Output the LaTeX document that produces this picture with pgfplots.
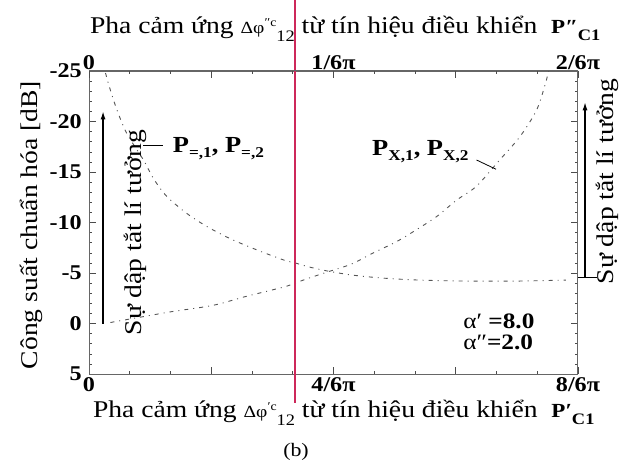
\documentclass[border=0pt]{standalone}
\usepackage{fontspec}
\setmainfont{Liberation Serif}[FakeStretch=1.15]
\usepackage{pgfplots}
\pgfplotsset{compat=1.18}
\usetikzlibrary{arrows.meta}
\definecolor{redline}{RGB}{205,40,90}
\definecolor{curvecol}{RGB}{85,85,85}
\begin{document}
\begin{tikzpicture}
\useasboundingbox (0,0) rectangle (621pt,475pt);
\begin{axis}[
  at={(89pt,101pt)}, anchor=south west,
  width=489pt, height=303pt, scale only axis,
  xmin=0, xmax=8, ymin=-25, ymax=5, y dir=reverse,
  xtick={0,2,4,6,8}, xticklabels={0,,4/6π,,8/6π},
  minor x tick num=2,
  ytick={-25,-20,-15,-10,-5,0,5}, yticklabels={-25,-20,-15,-10,-5,0,5},
  minor y tick num=4,
  xtick pos=left, ytick pos=both, yticklabel pos=left,
  tick align=inside,
  major tick length=7pt, minor tick length=3pt,
  axis line style={black!60, line width=1pt},
  every tick/.style={black!70, line width=0.6pt},
  tick label style={font=\fontsize{21}{21}\selectfont\bfseries},
  xticklabel style={inner sep=1pt, yshift=-2pt},
  yticklabel style={inner sep=1pt, xshift=-6pt},
  clip=false,
  every axis x label/.style={at={(axis description cs:0.521,-0.145)}, anchor=base},
  every axis y label/.style={at={(axis description cs:-0.1063,0.492)}, rotate=90, anchor=base},
  xlabel={\fontsize{24}{24}\selectfont Pha cảm ứng {\fontsize{17}{17}\selectfont Δφ}\raisebox{7pt}{\fontsize{12}{12}\selectfont ′c}\raisebox{-8pt}{\fontsize{16}{16}\selectfont 12} từ tín hiệu điều khiển\ \ \textbf{\fontsize{20}{20}\selectfont P′}\raisebox{-7pt}{\fontsize{16}{16}\selectfont\bfseries C1}},
  ylabel={\fontsize{24}{24}\selectfont Công suất chuẩn hóa [dB]},
]
% P=,1 and P=,2
\addplot[curvecol, line width=0.9pt, dash pattern=on 4pt off 5pt on 1pt off 5pt, smooth] coordinates {
(0.27,-24.8) (0.34,-23.3) (0.46,-21.1) (0.62,-18.8) (0.89,-16.2) (1.05,-14.4) (1.27,-12.6) (1.60,-10.9) (1.93,-9.6) (2.31,-8.4) (2.74,-7.3) (3.18,-6.3) (3.37,-6.0) (3.6,-5.6) (3.9,-5.2) (4.3,-4.8) (4.8,-4.5) (5.4,-4.3) (6.2,-4.2) (7.0,-4.2) (7.8,-4.3)
};
% PX,1 and PX,2
\addplot[curvecol, line width=0.9pt, dash pattern=on 4pt off 5pt on 1pt off 5pt, smooth] coordinates {
(0.35,-0.1) (1.0,-0.8) (1.38,-1.2) (2.03,-1.8) (2.58,-2.7) (3.18,-3.6) (3.37,-4.0) (3.6,-4.5) (3.9,-5.1) (4.3,-5.9) (4.62,-6.9) (5.03,-8.1) (5.36,-9.3) (5.69,-10.6) (6.01,-12.2) (6.34,-13.6) (6.72,-16.2) (7.05,-18.5) (7.32,-21.1) (7.46,-23.6) (7.52,-25)
};
% red vertical line
\draw[redline, line width=1.2pt] (axis cs:3.37,-32.0) -- (axis cs:3.37,7.87);
% left arrow
\draw[-{Latex[length=8pt,width=5pt]}, line width=1.2pt] (axis cs:0.23,0) -- (axis cs:0.23,-21);
\node[rotate=90, anchor=base, font=\fontsize{24}{24}\selectfont] at (axis cs:0.851,-9.01) {Sự dập tắt lí tưởng};
% right arrow
\draw[line width=1pt] (axis cs:8,-4.6) -- (axis cs:8.31,-4.6);
\draw[-{Latex[length=8pt,width=5pt]}, line width=1.2pt] (axis cs:8.115,-4.6) -- (axis cs:8.115,-21.9);
\node[rotate=90, anchor=base, font=\fontsize{24}{24}\selectfont] at (axis cs:8.589,-14.06) {Sự dập tắt lí tưởng};
% labels
\draw[line width=0.8pt] (axis cs:0.88,-17.67) -- (axis cs:1.21,-17.67);
\node[anchor=base west, inner sep=0pt, font=\fontsize{23}{23}\selectfont\bfseries] at (axis cs:1.37,-16.98)
  {P\raisebox{-5pt}{\fontsize{15}{15}\selectfont =,1}, P\raisebox{-5pt}{\fontsize{15}{15}\selectfont =,2}};
\draw[line width=0.8pt] (axis cs:6.34,-16.19) -- (axis cs:6.66,-15.27);
\node[anchor=base west, inner sep=0pt, font=\fontsize{23}{23}\selectfont\bfseries] at (axis cs:4.63,-16.68)
  {P\raisebox{-5pt}{\fontsize{15}{15}\selectfont X,1}, P\raisebox{-5pt}{\fontsize{15}{15}\selectfont X,2}};
\node[anchor=base west, inner sep=0pt, font=\fontsize{22}{22}\selectfont] at (axis cs:6.12,0.45) {α′ \textbf{=8.0}};
\node[anchor=base west, inner sep=0pt, font=\fontsize{22}{22}\selectfont] at (axis cs:6.12,2.62) {α″\textbf{=2.0}};
\node[font=\fontsize{19}{19}\selectfont] at (axis cs:3.387,12.72) {(b)};
\end{axis}
\begin{axis}[
  at={(89pt,101pt)}, anchor=south west,
  width=489pt, height=303pt, scale only axis,
  xmin=0, xmax=2, ymin=-25, ymax=5,
  axis x line*=top, axis y line=none,
  xtick={0,0.5,1,1.5,2}, xticklabels={0,,1/6π,,2/6π},
  minor x tick num=2,
  tick align=inside,
  major tick length=7pt, minor tick length=3pt,
  axis line style={black!60, line width=1pt},
  every tick/.style={black!70, line width=0.6pt},
  tick label style={font=\fontsize{21}{21}\selectfont\bfseries},
  xticklabel style={inner sep=1pt},
  every axis x label/.style={at={(axis description cs:0.524,1.125)}, anchor=base},
  xlabel={\fontsize{24}{24}\selectfont Pha cảm ứng {\fontsize{17}{17}\selectfont Δφ}\raisebox{7pt}{\fontsize{12}{12}\selectfont ″c}\raisebox{-8pt}{\fontsize{16}{16}\selectfont 12} từ tín hiệu điều khiển\ \ \textbf{\fontsize{20}{20}\selectfont P″}\raisebox{-7pt}{\fontsize{16}{16}\selectfont\bfseries C1}},
]
\end{axis}
\end{tikzpicture}
\end{document}
